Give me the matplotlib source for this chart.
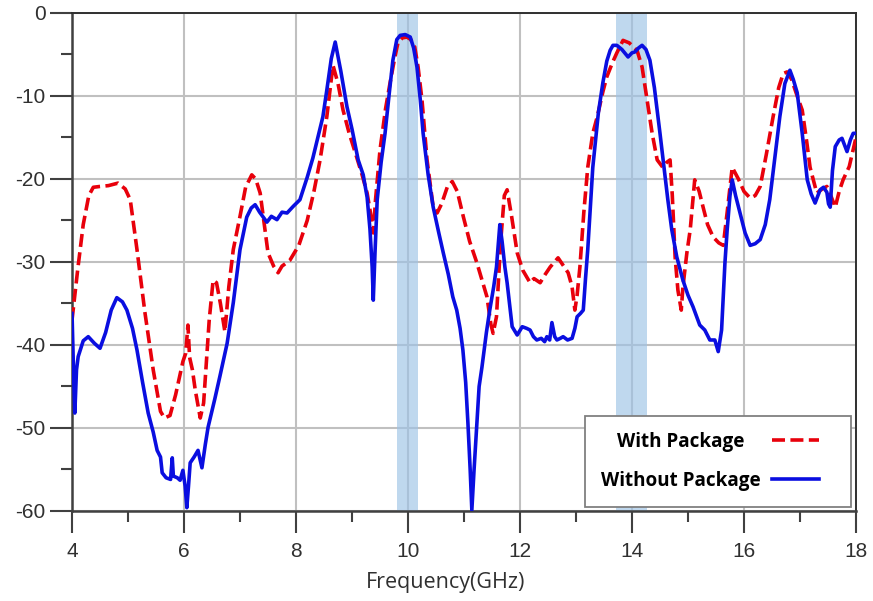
import matplotlib
matplotlib.use("Agg")
import matplotlib.pyplot as plt
from matplotlib.ticker import MultipleLocator
from matplotlib.legend_handler import HandlerLine2D

plt.rcParams["axes.unicode_minus"] = False

# ======================================
# DATOS
# ======================================

freq_with = [
    4.00, 4.10, 4.20, 4.30, 4.38, 4.50, 4.65, 4.82, 4.95, 5.04, 5.16, 5.30,
    5.45, 5.58, 5.65, 5.75, 5.85, 5.98, 6.03, 6.07, 6.10, 6.15, 6.20, 6.29,
    6.35, 6.45, 6.52, 6.58, 6.65, 6.73, 6.80, 6.88, 7.00, 7.10, 7.21, 7.28,
    7.36, 7.50, 7.60, 7.68, 7.75, 7.89, 8.05, 8.20, 8.32, 8.43, 8.55, 8.66,
    8.75, 8.84, 8.95, 9.08, 9.18, 9.27, 9.34, 9.38, 9.42, 9.50, 9.60, 9.68,
    9.76, 9.82, 9.90, 9.98, 10.05, 10.12, 10.18, 10.25, 10.34, 10.45, 10.52,
    10.60, 10.70, 10.79, 10.88, 10.99, 11.10, 11.23, 11.41, 11.48, 11.52,
    11.58, 11.65, 11.72, 11.77, 11.85, 11.95, 12.05, 12.18, 12.25, 12.36,
    12.45, 12.54, 12.68, 12.78, 12.86, 12.93, 12.98, 13.02, 13.07, 13.14,
    13.21, 13.30, 13.38, 13.48, 13.55, 13.65, 13.73, 13.84, 13.95, 14.09,
    14.18, 14.27, 14.36, 14.45, 14.55, 14.62, 14.68, 14.72, 14.77, 14.82,
    14.88, 14.91, 14.98, 15.04, 15.12, 15.20, 15.27, 15.35, 15.45, 15.55,
    15.63, 15.70, 15.79, 15.90, 16.00, 16.11, 16.20, 16.29, 16.40, 16.52,
    16.62, 16.70, 16.77, 16.85, 16.95, 17.04, 17.12, 17.18, 17.30, 17.40,
    17.48, 17.55, 17.63, 17.70, 17.77, 17.88, 18.00
]
s_with = [
    -37, -31, -25.5, -22, -21, -20.9, -20.8, -20.5, -21.2, -22.5, -28.5, -36,
    -43, -48, -48.8, -48.5, -46, -42, -41, -37.6, -41.5, -43, -45.4, -48.8,
    -47, -37, -32.2, -32.5, -35, -38.4, -33, -28.5, -24.5, -21, -19.5, -20,
    -21.7, -28.9, -30.5, -31.3, -30.5, -29.8, -28, -25, -21.5, -17.7, -12.5, -6.3,
    -8.5, -11.7, -14.5, -17.3, -19.5, -21.7, -24.5, -26.5, -22.5, -16.5, -11.5, -8.4,
    -5.5, -3.6, -3.0, -2.9, -3.2, -4.1, -6.5, -10.5, -17.7, -23.4, -24.1,
    -23, -21, -20.3, -21.5, -24.6, -27.5, -30.1, -34.2, -37.5, -38.6,
    -36.6, -28, -22, -21.3, -24.5, -28.9, -31, -32.5, -32, -32.5,
    -31.5, -30.6, -29.5, -30.5, -31.3, -33, -35.8, -34, -30.6, -24,
    -18.6, -14.5, -12.5, -9.5, -7.7, -6, -4.8, -3.3, -3.6, -4.5,
    -6.5, -10.5, -14.5, -17.7, -18.6, -18, -17.7, -22, -29.4, -33.4,
    -35.8, -33, -28.9, -26.1, -20.1, -21.5, -23.4, -25.5, -27, -27.7,
    -28, -24, -18.6, -20, -21.5, -22.3, -22, -20.9, -17, -12.5,
    -9, -7.3, -7.1, -8, -10, -11.7, -15.5, -18.6, -21.7, -21.2,
    -20.9, -22, -23.4, -21.5, -20.1, -18.5, -15
]

freq_without = [
    4.00, 4.03, 4.05, 4.08, 4.11, 4.20, 4.29, 4.40, 4.50, 4.60, 4.70, 4.80,
    4.90, 4.98, 5.08, 5.16, 5.26, 5.36, 5.45, 5.52, 5.58, 5.61, 5.68, 5.76,
    5.79, 5.81, 5.88, 5.93, 5.98, 6.02, 6.05, 6.08, 6.11, 6.18, 6.25, 6.32,
    6.38, 6.43, 6.55, 6.64, 6.77, 6.88, 7.00, 7.12, 7.20, 7.27, 7.35, 7.48,
    7.56, 7.66, 7.75, 7.84, 7.95, 8.07, 8.20, 8.30, 8.38, 8.48, 8.55, 8.63,
    8.70, 8.80, 8.91, 9.00, 9.11, 9.20, 9.27, 9.32, 9.36, 9.38, 9.41, 9.45,
    9.52, 9.59, 9.66, 9.73, 9.80, 9.86, 9.95, 10.04, 10.10, 10.16, 10.22,
    10.27, 10.36, 10.45, 10.55, 10.63, 10.72, 10.80, 10.87, 10.93, 10.98,
    11.03, 11.07, 11.11, 11.14, 11.18, 11.23, 11.27, 11.32, 11.40, 11.46,
    11.53, 11.58, 11.64, 11.68, 11.73, 11.77, 11.82, 11.86, 11.95, 12.04,
    12.12, 12.18, 12.24, 12.30, 12.38, 12.44, 12.48, 12.53, 12.57, 12.62,
    12.66, 12.72, 12.77, 12.85, 12.93, 12.98, 13.02, 13.08, 13.13, 13.17,
    13.21, 13.30, 13.40, 13.48, 13.55, 13.61, 13.66, 13.73, 13.82, 13.93,
    14.00, 14.05, 14.12, 14.18, 14.25, 14.32, 14.40, 14.50, 14.57, 14.64,
    14.71, 14.80, 14.91, 15.00, 15.09, 15.21, 15.30, 15.39, 15.48, 15.54,
    15.60, 15.66, 15.70, 15.75, 15.79, 15.85, 15.93, 16.02, 16.11, 16.20,
    16.29, 16.38, 16.46, 16.55, 16.64, 16.73, 16.82, 16.88, 16.95, 17.04,
    17.13, 17.20, 17.27, 17.36, 17.42, 17.48, 17.51, 17.54, 17.58, 17.63,
    17.70, 17.75, 17.80, 17.84, 17.90, 17.95, 18.00
]
s_without = [
    -36.2, -44, -48.2, -43, -41.4, -39.5, -39, -39.8, -40.4, -38.5, -35.8, -34.3,
    -34.8, -35.8, -38, -40.6, -44.5, -48.2, -50.5, -52.7, -53.5, -55.4, -56, -56.2,
    -53.6, -55.8, -56, -56.3, -55.1, -57, -59.6, -57, -54.2, -53.5, -52.7, -54.8,
    -52, -49.9, -46.5, -43.8, -39.8, -34.9, -28.5, -24.6, -23.5, -23.1, -24, -25.2,
    -24.5, -24.9, -24, -24.1, -23.3, -22.5, -19.8, -17.5, -15.3, -12.5, -9.3, -5.5,
    -3.5, -7, -11.3, -14, -17.7, -19.5, -22.2, -26, -30.6, -34.6, -29, -22.5,
    -18, -14.5, -10, -5.7, -3.2, -2.7, -2.6, -2.9, -4.2, -6.5, -10.5,
    -14.5, -19.5, -23.4, -26.5, -28.9, -31.5, -34.2, -35.8, -38, -40.6,
    -44.5, -49.4, -55, -59.9, -55, -49.4, -45, -42.7, -38.5, -35.8,
    -33, -30.6, -25.5, -27.5, -30.6, -32.5, -35.5, -37.8, -38.8, -37.8,
    -38, -38.2, -39, -39.4, -39.2, -39.6, -39, -39.4, -37.3, -39,
    -39.4, -39.2, -39, -39.4, -39.2, -38, -36.6, -36.2, -35.8, -32,
    -28.5, -18.6, -12, -8.4, -5.8, -4.5, -3.9, -3.9, -4.4, -5.3,
    -4.8, -4.7, -4.2, -3.9, -4.4, -5.7, -9, -14.5, -18.5, -22.5,
    -26.1, -29.4, -32.2, -34, -35.4, -37.6, -38.2, -39.4, -39.4, -40.8,
    -38.2, -30.1, -26.1, -22, -20.1, -22, -24.1, -26.5, -28, -27.8,
    -27.3, -25.5, -22.5, -17.5, -12.5, -8.5, -6.9, -8, -9.6, -14.5,
    -20.1, -21.8, -22.9, -21.3, -21, -21.6, -23, -23.4, -19, -16.1,
    -15.3, -15.1, -16, -16.7, -15.3, -14.5, -14.5
]

# bandas de operacion (GHz)
bandas = [(9.80, 10.18), (13.72, 14.27)]

etiquetas = ["With Package", "Without Package"]


# linea de leyenda mas corta que el hueco reservado (deja margen a la derecha)
class HandlerCorto(HandlerLine2D):
    def create_artists(self, legend, orig_handle, xdescent, ydescent,
                       width, height, fontsize, trans):
        return super().create_artists(legend, orig_handle, xdescent, ydescent,
                                      width * 0.75, height, fontsize, trans)


# ======================================
# FIGURA
# ======================================

fig = plt.figure(figsize=(8.73, 6.01), dpi=100)
ax = fig.add_axes([0.0825, 0.1498, 0.898, 0.8286])

for f0, f1 in bandas:
    ax.axvspan(f0, f1, color="#9dc3e6", alpha=0.65, lw=0, zorder=1.5)

ax.plot(freq_with, s_with, color="#e8000b", lw=2.6, dashes=(3.6, 1.5),
        label=etiquetas[0], zorder=3)
ax.plot(freq_without, s_without, color="#0a0ee0", lw=2.6,
        label=etiquetas[1], zorder=4)

ax.set_xlim(4, 18)
ax.set_ylim(-60, 0)

ax.xaxis.set_major_locator(MultipleLocator(2))
ax.xaxis.set_minor_locator(MultipleLocator(1))
ax.yaxis.set_major_locator(MultipleLocator(10))
ax.yaxis.set_minor_locator(MultipleLocator(5))

ax.grid(True, which="major", color="#c0c0c0", lw=1.5, zorder=1)
ax.set_axisbelow(True)

ax.tick_params(which="major", direction="out", length=15.5, width=1.5,
               color="#404040", labelcolor="#303030",
               labelsize=15, labelfontfamily="Liberation Sans")
ax.tick_params(axis="x", which="major", pad=7)
ax.tick_params(axis="y", which="major", pad=3.5)
ax.tick_params(which="minor", direction="out", length=8, width=1.5,
               color="#404040")

for lado in ["left", "bottom"]:
    ax.spines[lado].set_linewidth(1.8)
    ax.spines[lado].set_color("#404040")
for lado in ["top", "right"]:
    ax.spines[lado].set_linewidth(1.4)
    ax.spines[lado].set_color("#303030")

ax.set_xlabel("Frequency(GHz)", fontsize=15.5, family="Open Sans",
              color="#303030")
ax.xaxis.set_label_coords(0.476, -0.122)

leg = ax.legend(
    loc="lower right",
    bbox_to_anchor=(0.994, 0.008),
    markerfirst=False,
    fancybox=False,
    framealpha=1,
    edgecolor="#808080",
    prop={"family": "Open Sans", "weight": "bold", "size": 13.6},
    handler_map={plt.Line2D: HandlerCorto()},
    handlelength=3.33,
    handletextpad=0.6,
    labelspacing=1.0,
    borderpad=0.85,
    borderaxespad=0,
)
leg.get_frame().set_linewidth(1.3)
leg.set_zorder(5)

# centrar las etiquetas de la leyenda entre si
fig.canvas.draw()
textos = leg.get_texts()
anchos = [t.get_window_extent().width for t in textos]
for t, w in zip(textos, anchos):
    t.set_x(-(max(anchos) - w) / 2)

fig.savefig("out.png", dpi=100)
plt.close(fig)
